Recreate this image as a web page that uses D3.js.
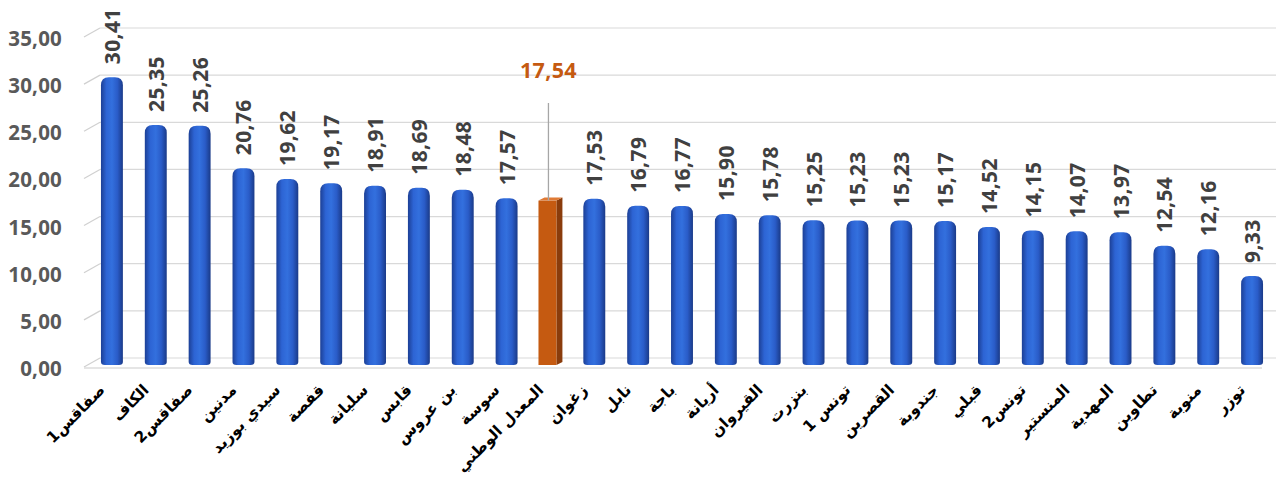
<!DOCTYPE html>
<html>
<head>
<meta charset="utf-8">
<script src="https://cdn.jsdelivr.net/npm/d3@7"></script>
<style>
  html, body { margin: 0; padding: 0; background: #ffffff; }
  svg { display: block; }
</style>
</head>
<body>
<svg id="chart" width="1280" height="481"></svg>
<script>
const categories = ["صفاقس1", "الكاف", "صفاقس2", "مدنين", "سيدي بوزيد", "قفصة", "سليانة", "قابس", "بن عروس", "سوسة", "المعدل الوطني", "زغوان", "نابل", "باجة", "أريانة", "القيروان", "بنزرت", "تونس 1", "القصرين", "جندوبة", "قبلي", "تونس2", "المنستير", "المهدية", "تطاوين", "منوبة", "توزر"];
const values = [30.41, 25.35, 25.26, 20.76, 19.62, 19.17, 18.91, 18.69, 18.48, 17.57, 17.54, 17.53, 16.79, 16.77, 15.90, 15.78, 15.25, 15.23, 15.23, 15.17, 14.52, 14.15, 14.07, 13.97, 12.54, 12.16, 9.33];
const highlightCategory = "المعدل الوطني";
const yTicks = [0, 5, 10, 15, 20, 25, 30, 35];

const data = categories.map((c, i) => ({ cat: c, val: values[i] }));
const fmt = v => v.toFixed(2).replace(".", ",");

const svg = d3.select("#chart");

const x = d3.scaleBand().domain(categories).range([90, 1274]).paddingInner(0.5).paddingOuter(0.25);
const y = d3.scaleLinear().domain([0, 35]).range([366, 36]);

const depthX = 16, depthY = 9;
const wallLeft = 84;
const numFont = "'Open Sans', sans-serif";

// defs: gradients
const defs = svg.append("defs");
const g1 = defs.append("linearGradient").attr("id", "blueGrad").attr("x1", "0%").attr("x2", "100%").attr("y1", "0%").attr("y2", "0%");
[["0%", "#1c3f95"], ["25%", "#2d64d4"], ["50%", "#3370de"], ["75%", "#2a5cc8"], ["100%", "#1a3a88"]]
  .forEach(s => g1.append("stop").attr("offset", s[0]).attr("stop-color", s[1]));

// gridlines (back wall + left wall diagonals)
const grid = svg.append("g").attr("class", "grid");
yTicks.forEach(t => {
  const yy = y(t);
  grid.append("line")
    .attr("x1", wallLeft).attr("y1", yy + 1)
    .attr("x2", wallLeft + depthX).attr("y2", yy - depthY + 1)
    .attr("stroke", "#d0d0d0").attr("stroke-width", 1.2);
  grid.append("line")
    .attr("x1", wallLeft + depthX).attr("y1", yy - depthY + 1)
    .attr("x2", 1276).attr("y2", yy - depthY + 1)
    .attr("stroke", "#d9d9d9").attr("stroke-width", 1.2);
});

// floor front edge
svg.append("line")
  .attr("x1", wallLeft).attr("y1", y(0) + 2)
  .attr("x2", 1262).attr("y2", y(0) + 2)
  .attr("stroke", "#dcdcdc").attr("stroke-width", 1.5);

// y-axis labels
const yAxis = d3.axisLeft(y).tickValues(yTicks).tickFormat(fmt).tickSize(0).tickPadding(0);
const ya = svg.append("g").attr("transform", "translate(62,3)").call(yAxis);
ya.select(".domain").remove();
ya.selectAll("text")
  .attr("font-family", numFont)
  .attr("font-weight", "bold")
  .attr("font-size", "20.5px")
  .attr("letter-spacing", "0.2px")
  .attr("fill", "#595959");

// bars
const bw = x.bandwidth();
const r = 8;
const blueBars = data.filter(d => d.cat !== highlightCategory);
svg.append("g").selectAll("path.bar").data(blueBars).enter().append("path")
  .attr("class", "bar")
  .attr("d", d => {
    const x0 = x(d.cat), x1 = x0 + bw, top = y(d.val) - 2, bot = y(0) - 1;
    return `M${x0},${bot - 3} L${x0},${top + r} Q${x0},${top} ${x0 + r},${top} L${x1 - r},${top} Q${x1},${top} ${x1},${top + r} L${x1},${bot - 3} Q${x1},${bot} ${x1 - 4},${bot} L${x0 + 4},${bot} Q${x0},${bot} ${x0},${bot - 3} Z`;
  })
  .attr("fill", "url(#blueGrad)");

// highlighted bar (3D box)
const hd = data.find(d => d.cat === highlightCategory);
const hx0 = x(hd.cat) - 1, hw = bw - 4, side = 6, lift = 3;
const htop = y(hd.val), hbot = y(0) - 1;
const hg = svg.append("g");
hg.append("path")
  .attr("d", `M${hx0 + hw},${htop} L${hx0 + hw + side},${htop - lift} L${hx0 + hw + side},${hbot - lift} L${hx0 + hw},${hbot} Z`)
  .attr("fill", "#8a3c0c");
hg.append("path")
  .attr("d", `M${hx0},${htop} L${hx0 + side},${htop - lift} L${hx0 + hw + side},${htop - lift} L${hx0 + hw},${htop} Z`)
  .attr("fill", "#e07a35");
hg.append("rect")
  .attr("x", hx0).attr("y", htop).attr("width", hw).attr("height", hbot - htop)
  .attr("fill", "#c55a11");

// value labels (rotated)
svg.append("g").selectAll("text.val").data(blueBars).enter().append("text")
  .attr("class", "val")
  .attr("transform", d => `translate(${x(d.cat) + bw / 2 + 8},${y(d.val) - 15}) rotate(-90)`)
  .attr("text-anchor", "start")
  .attr("font-family", numFont)
  .attr("font-weight", "bold")
  .attr("font-size", "21px")
  .attr("letter-spacing", "0.4px")
  .attr("fill", "#404040")
  .text(d => fmt(d.val));

// highlighted label + leader line
const hcx = x(hd.cat) + bw / 2;
svg.append("line")
  .attr("x1", hcx - 2).attr("x2", hcx - 2)
  .attr("y1", 103).attr("y2", htop)
  .attr("stroke", "#a6a6a6").attr("stroke-width", 1.3);
svg.append("text")
  .attr("x", hcx - 2).attr("y", 78)
  .attr("text-anchor", "middle")
  .attr("font-family", numFont)
  .attr("font-weight", "bold")
  .attr("font-size", "21.5px")
  .attr("letter-spacing", "0.3px")
  .attr("fill", "#c55a11")
  .text(fmt(hd.val));

// category labels (rotated -45)
svg.append("g").selectAll("text.cat").data(data).enter().append("text")
  .attr("class", "cat")
  .attr("transform", d => `translate(${x(d.cat) + bw / 2 - 6},${391}) rotate(-45)`)
  .attr("text-anchor", "end")
  .attr("font-family", "'DejaVu Sans', sans-serif")
  .attr("font-weight", "bold")
  .attr("font-size", "15.5px")
  .attr("fill", "#000000")
  .text(d => d.cat);
</script>
</body>
</html>
